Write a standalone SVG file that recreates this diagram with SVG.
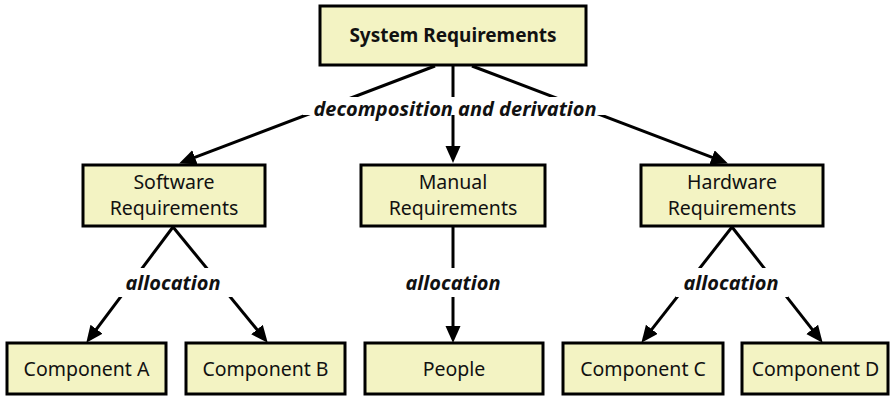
<svg xmlns="http://www.w3.org/2000/svg" width="890" height="396" viewBox="0 0 890 396">
  <style>
    .box { fill: #f3f3c3; stroke: #000; stroke-width: 3; }
    .t { font-family: "Noto Sans", "Open Sans", sans-serif; font-size: 19.5px; fill: #111; text-anchor: middle; }
    .b { font-weight: bold; font-size: 19px; }
    .lbl { font-family: "Noto Sans", "Open Sans", sans-serif; font-size: 20px; font-weight: bold; font-style: italic; fill: #111; text-anchor: middle; }
    .c { stroke: #000; stroke-width: 3; fill: none; }
    .bg { fill: #fff; }
  </style>
  <defs>
    <marker id="arr" markerUnits="userSpaceOnUse" markerWidth="18" markerHeight="16" refX="10" refY="7.5" orient="auto">
      <path d="M0,0 L17,7.5 L0,15 z" fill="#000"/>
    </marker>
  </defs>
  <rect width="890" height="396" fill="#fff"/>

  <g id="connectors">
    <line class="c" x1="435" y1="66" x2="185.6" y2="160.9" marker-end="url(#arr)"/>
    <line class="c" x1="453" y1="66" x2="453" y2="156" marker-end="url(#arr)"/>
    <line class="c" x1="472" y1="66" x2="721.4" y2="160.9" marker-end="url(#arr)"/>
    <line class="c" x1="173" y1="227" x2="90.5" y2="337.2" marker-end="url(#arr)"/>
    <line class="c" x1="173" y1="227" x2="263.3" y2="337.3" marker-end="url(#arr)"/>
    <line class="c" x1="453" y1="227" x2="453" y2="336" marker-end="url(#arr)"/>
    <line class="c" x1="732" y1="227" x2="645.7" y2="337.2" marker-end="url(#arr)"/>
    <line class="c" x1="732" y1="227" x2="818.3" y2="337.2" marker-end="url(#arr)"/>
  </g>

  <g id="labels">
    <rect class="bg" x="303" y="97" width="303" height="18"/>
    <text class="lbl" x="455" y="116">decomposition and derivation</text>
    <rect class="bg" x="117" y="268" width="116" height="29"/>
    <text class="lbl" x="173" y="290">allocation</text>
    <rect class="bg" x="400" y="268" width="106" height="29"/>
    <text class="lbl" x="453" y="290">allocation</text>
    <rect class="bg" x="676" y="268" width="112" height="29"/>
    <text class="lbl" x="731" y="290">allocation</text>
  </g>

  <g id="system">
    <rect class="box" x="320" y="6" width="266" height="59"/>
    <text class="t b" x="453" y="42">System Requirements</text>
  </g>
  <g id="software">
    <rect class="box" x="83" y="165" width="182" height="61"/>
    <text class="t" x="174" y="189">Software</text>
    <text class="t" x="174" y="215">Requirements</text>
  </g>
  <g id="manual">
    <rect class="box" x="361" y="165" width="184" height="61"/>
    <text class="t" x="453" y="189">Manual</text>
    <text class="t" x="453" y="215">Requirements</text>
  </g>
  <g id="hardware">
    <rect class="box" x="641" y="165" width="182" height="61"/>
    <text class="t" x="732" y="189">Hardware</text>
    <text class="t" x="732" y="215">Requirements</text>
  </g>
  <g id="compA">
    <rect class="box" x="7" y="343" width="159" height="51"/>
    <text class="t" x="86.5" y="376">Component A</text>
  </g>
  <g id="compB">
    <rect class="box" x="186" y="343" width="159" height="51"/>
    <text class="t" x="265.5" y="376">Component B</text>
  </g>
  <g id="people">
    <rect class="box" x="365" y="343" width="178" height="51"/>
    <text class="t" x="454" y="376">People</text>
  </g>
  <g id="compC">
    <rect class="box" x="563" y="343" width="160" height="51"/>
    <text class="t" x="643" y="376">Component C</text>
  </g>
  <g id="compD">
    <rect class="box" x="742" y="343" width="146" height="51"/>
    <text class="t" x="815.5" y="376">Component D</text>
  </g>
</svg>
